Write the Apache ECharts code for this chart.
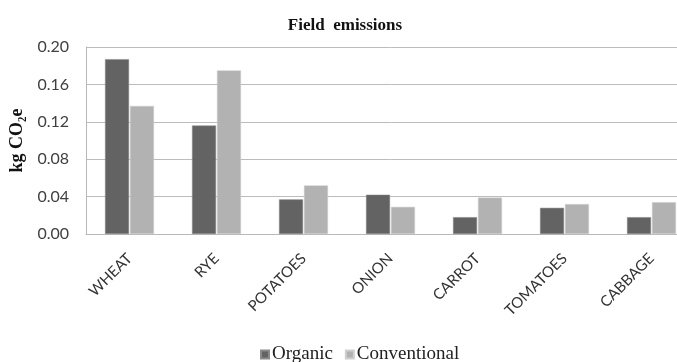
<!DOCTYPE html>
<html>
<head>
<meta charset="utf-8">
<script src="https://cdn.jsdelivr.net/npm/echarts@6/dist/echarts.min.js"></script>
<style>html,body{margin:0;padding:0;background:#fff;overflow:hidden}#c{width:700px;height:362px}</style>
</head>
<body>
<div id="c"></div>
<script>
const categories = ['WHEAT', 'RYE', 'POTATOES', 'ONION', 'CARROT', 'TOMATOES', 'CABBAGE'];
const organic = [0.187, 0.116, 0.037, 0.042, 0.018, 0.028, 0.018];
const conventional = [0.137, 0.175, 0.052, 0.029, 0.039, 0.032, 0.034];
const yTicks = [0, 0.04, 0.08, 0.12, 0.16, 0.20];

const chart = echarts.init(document.getElementById('c'));
chart.setOption({
  animation: false,
  backgroundColor: '#fff',
  title: {
    text: 'Field  emissions', left: 340, textAlign: 'center', top: 12,
    textStyle: { fontFamily: 'Liberation Serif', fontWeight: 'bold', fontSize: 17, color: '#111' }
  },
  legend: {
    top: 340, left: 255, itemWidth: 8, itemHeight: 8, itemGap: 12,
    icon: 'rect',
    textStyle: { fontFamily: 'Liberation Serif', fontSize: 19, color: '#222', padding: [0,0,0,-2] },
    data: ['Organic', 'Conventional']
  },
  grid: { left: 83, top: 47, width: 612, height: 187, containLabel: false },
  xAxis: {
    type: 'category', data: categories,
    axisTick: { show: false },
    axisLine: { lineStyle: { color: '#b8b8b8', width: 1 } },
    axisLabel: { rotate: 45, margin: 22, fontFamily: 'Lato', fontSize: 15, color: '#333', interval: 0 }
  },
  yAxis: {
    type: 'value', min: yTicks[0], max: yTicks[yTicks.length - 1], interval: 0.04,
    name: 'kg CO₂e', nameLocation: 'middle', nameGap: 60,
    nameTextStyle: { fontFamily: 'Liberation Serif', fontWeight: 'bold', fontSize: 18, color: '#111' },
    axisLine: { show: true, lineStyle: { color: '#b8b8b8', width: 1 } },
    axisTick: { show: false },
    splitLine: { lineStyle: { color: '#bcbcbc', width: 1 } },
    axisLabel: { margin: 17, fontFamily: 'Lato', fontSize: 16, color: '#404040', formatter: v => v.toFixed(2) }
  },
  series: [
    { name: 'Organic', type: 'bar', data: organic, barWidth: 24, barGap: '4%',
      itemStyle: { color: '#636363', borderColor: '#8a8a8a', borderWidth: 0.5 } },
    { name: 'Conventional', type: 'bar', data: conventional, barWidth: 24,
      itemStyle: { color: '#b2b2b2', borderColor: '#cfcfcf', borderWidth: 0.5 } }
  ]
});
</script>
</body>
</html>
